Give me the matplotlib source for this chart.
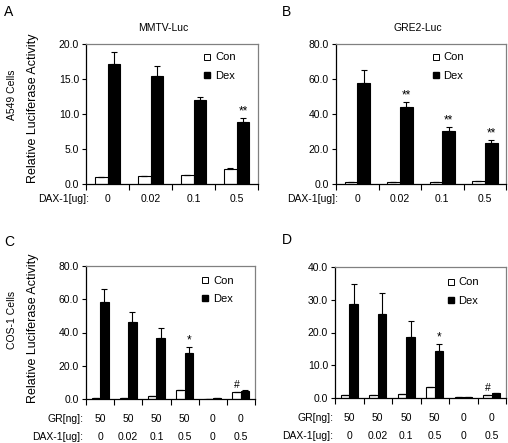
import numpy as np
import matplotlib.pyplot as plt
from matplotlib.lines import Line2D

plt.rcParams['font.family'] = ['Liberation Sans', 'DejaVu Sans']

# etiquetas de los grupos
dax_ab = ['0', '0.02', '0.1', '0.5']
gr_cd = ['50', '50', '50', '50', '0', '0']
dax_cd = ['0', '0.02', '0.1', '0.5', '0', '0.5']

# A - MMTV-Luc, A549
con_a = [1.0, 1.1, 1.3, 2.2]
con_a_err = [0.0, 0.1, 0.0, 0.1]
dex_a = [17.1, 15.5, 12.0, 8.8]
dex_a_err = [1.7, 1.3, 0.5, 0.6]
marca_dex_a = ['', '', '', '**']

# B - GRE2-Luc, A549
con_b = [1.0, 1.0, 1.0, 1.7]
con_b_err = [0.0, 0.0, 0.0, 0.0]
dex_b = [57.9, 43.8, 30.1, 23.4]
dex_b_err = [7.2, 3.1, 2.3, 1.7]
marca_dex_b = ['', '**', '**', '**']

# C - MMTV-Luc, COS-1
con_c = [0.8, 0.8, 1.6, 5.6, 0.3, 4.3]
con_c_err = [0.0, 0.0, 0.0, 0.0, 0.0, 0.0]
dex_c = [58.1, 46.1, 36.5, 27.9, 0.4, 5.1]
dex_c_err = [8.0, 6.0, 6.2, 3.2, 0.0, 0.3]
marca_dex_c = ['', '', '', '*', '', '']
marca_con_c = ['', '', '', '', '', '#']

# D - GRE2-Luc, COS-1
con_d = [0.9, 0.9, 1.2, 3.5, 0.2, 1.0]
con_d_err = [0.0, 0.0, 0.0, 0.0, 0.0, 0.0]
dex_d = [28.8, 25.5, 18.7, 14.2, 0.3, 1.4]
dex_d_err = [6.1, 6.5, 4.8, 2.3, 0.0, 0.2]
marca_dex_d = ['', '', '', '*', '', '']
marca_con_d = ['', '', '', '', '', '#']

fs = 7.5
w = 0.3


def panel(ax, con, con_err, dex, dex_err, ymax, paso, leg_x, leg_y, marca_dex, marca_con=None):
    n = len(con)
    x = np.arange(n)
    ax.bar(x - w/2, con, w, color='white', edgecolor='black', linewidth=0.8,
           yerr=[np.zeros(n), con_err], error_kw=dict(ecolor='black', elinewidth=0.8, capsize=2.5, capthick=0.8))
    ax.bar(x + w/2, dex, w, color='black', edgecolor='black', linewidth=0.8,
           yerr=[np.zeros(n), dex_err], error_kw=dict(ecolor='black', elinewidth=0.8, capsize=2.5, capthick=0.8))
    # asteriscos
    for i in range(n):
        if marca_dex[i]:
            ax.annotate(marca_dex[i], (x[i] + w/2, dex[i] + dex_err[i]), xytext=(0, 0.5),
                        textcoords='offset points', ha='center', va='bottom', fontsize=fs + 1)
        if marca_con is not None and marca_con[i]:
            ax.annotate(marca_con[i], (x[i] - w/2, con[i] + con_err[i]), xytext=(0, 1.5),
                        textcoords='offset points', ha='center', va='bottom', fontsize=fs)
    ax.set_xlim(-0.5, n - 0.5)
    ax.set_ylim(0, ymax)
    ax.set_yticks(np.arange(0, ymax + paso/2, paso))
    ax.set_yticklabels(['%.1f' % v for v in np.arange(0, ymax + paso/2, paso)], fontsize=fs)
    ax.tick_params(axis='y', length=3, width=0.8, pad=2, direction='out')
    ax.set_xticks(np.arange(-0.5, n, 1))
    ax.set_xticklabels([])
    ax.tick_params(axis='x', length=4, width=0.8, direction='out')
    for s in ['left', 'bottom']:
        ax.spines[s].set_linewidth(0.9)
    for s in ['top', 'right']:
        ax.spines[s].set_color('#808080')
        ax.spines[s].set_linewidth(0.9)
    handles = [Line2D([], [], marker='s', markersize=5, markerfacecolor='white', markeredgecolor='black',
                      markeredgewidth=0.7, linestyle='none'),
               Line2D([], [], marker='s', markersize=5, markerfacecolor='black', markeredgecolor='black',
                      linestyle='none')]
    ax.legend(handles, ['Con', 'Dex'], loc='upper left', bbox_to_anchor=(leg_x, leg_y), frameon=False,
              fontsize=fs + 0.5, handlelength=0.8, handletextpad=0.3, labelspacing=0.75,
              borderpad=0, borderaxespad=0)


fig = plt.figure(figsize=(5.08, 4.43), dpi=100)

ax_a = fig.add_axes([86/508, 1 - 184/443, 172/508, 140/443])
ax_b = fig.add_axes([336/508, 1 - 184/443, 170/508, 140/443])
ax_c = fig.add_axes([86/508, 1 - 399/443, 169/508, 133/443])
ax_d = fig.add_axes([335/508, 1 - 398/443, 171/508, 131/443])

panel(ax_a, con_a, con_a_err, dex_a, dex_a_err, 20, 5, 0.68, 0.94, marca_dex_a)
panel(ax_b, con_b, con_b_err, dex_b, dex_b_err, 80, 20, 0.56, 0.94, marca_dex_b)
panel(ax_c, con_c, con_c_err, dex_c, dex_c_err, 80, 20, 0.68, 0.925, marca_dex_c, marca_con_c)
panel(ax_d, con_d, con_d_err, dex_d, dex_d_err, 40, 10, 0.65, 0.92, marca_dex_d, marca_con_d)

# filas de etiquetas debajo del eje x
for ax, xr in [(ax_a, -0.43), (ax_b, -0.45)]:
    tr = ax.get_xaxis_transform()
    y = -15/140
    ax.text(xr, y, 'DAX-1[ug]:', transform=tr, ha='right', va='center', fontsize=fs)
    for i, t in enumerate(dax_ab):
        ax.text(i, y, t, transform=tr, ha='center', va='center', fontsize=fs)

for ax, xr, h in [(ax_c, -0.6, 133), (ax_d, -0.57, 131)]:
    tr = ax.get_xaxis_transform()
    ax.text(xr, -20/h, 'GR[ng]:', transform=tr, ha='right', va='center', fontsize=fs)
    ax.text(xr, -38/h, 'DAX-1[ug]:', transform=tr, ha='right', va='center', fontsize=fs)
    for i in range(6):
        ax.text(i, -20/h, gr_cd[i], transform=tr, ha='center', va='center', fontsize=fs)
        ax.text(i, -38/h, dax_cd[i], transform=tr, ha='center', va='center', fontsize=fs)

# titulos
fig.text(163/508, 1 - 28/443, 'MMTV-Luc', ha='center', va='center', fontsize=fs)
fig.text(418/508, 1 - 28/443, 'GRE2-Luc', ha='center', va='center', fontsize=fs)

# letras de los paneles
fig.text(4/508, 1 - 12/443, 'A', ha='left', va='center', fontsize=10)
fig.text(282/508, 1 - 12/443, 'B', ha='left', va='center', fontsize=10)
fig.text(4/508, 1 - 242/443, 'C', ha='left', va='center', fontsize=10)
fig.text(282/508, 1 - 240/443, 'D', ha='left', va='center', fontsize=10)

# etiquetas de filas y eje y
fig.text(12/508, 1 - 95/443, 'A549 Cells', rotation=90, ha='center', va='center', fontsize=fs)
fig.text(12/508, 1 - 320/443, 'COS-1 Cells', rotation=90, ha='center', va='center', fontsize=fs)
fig.text(33/508, 1 - 108/443, 'Relative Luciferase Activity', rotation=90, ha='center', va='center', fontsize=9)
fig.text(33/508, 1 - 328/443, 'Relative Luciferase Activity', rotation=90, ha='center', va='center', fontsize=9)

plt.savefig('out.png', dpi=100)
